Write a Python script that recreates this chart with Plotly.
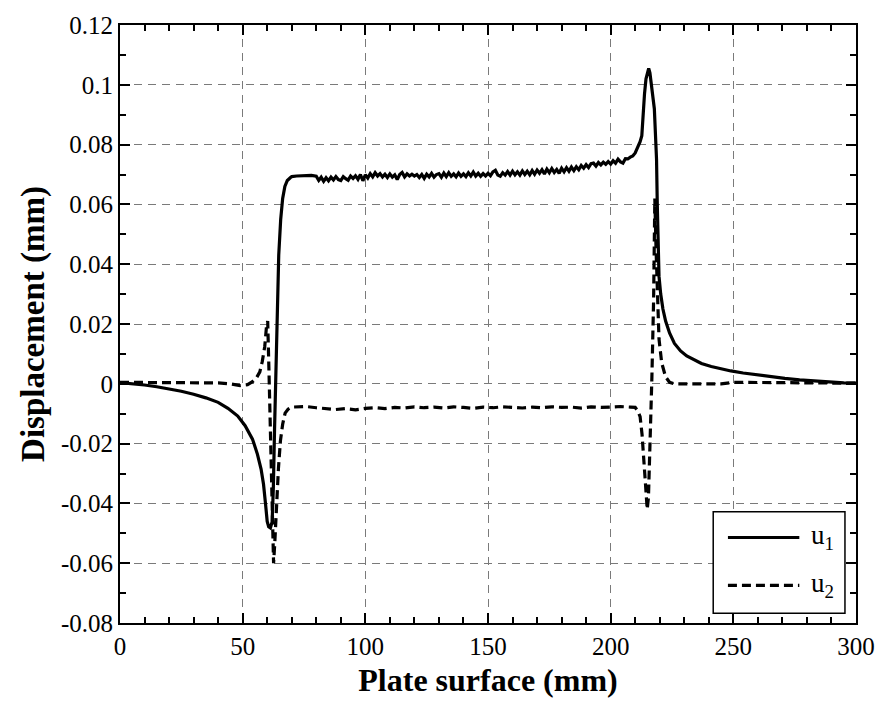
import plotly.graph_objects as go

# ---------------- data ----------------
u1_x = [0, 5, 10, 15, 20, 25, 30, 35, 40, 44, 48, 51, 54, 56, 57.5, 58.5, 59.3, 60, 60.6, 61.3,
        62, 62.5, 63, 63.5, 64, 64.7, 65.5, 66.3, 67.2, 68.2, 69.5,
        70, 72, 74, 76, 78, 80, 81, 82, 83, 84, 85, 86, 87, 88, 89, 90, 91, 92, 93, 94, 95, 96,
        97, 98, 99, 100, 101, 102, 103, 104, 105, 106, 107, 108, 109, 110, 111, 112, 113, 114,
        115, 116, 117, 118, 119, 120, 121, 122, 123, 124, 125, 126, 127, 128, 129, 130, 131, 132,
        133, 134, 135, 136, 137, 138, 139, 140, 141, 142, 143, 144, 145, 146, 147, 148, 149, 150,
        151, 152, 153, 154, 155, 156, 157, 158, 159, 160, 161, 162, 163, 164, 165, 166, 167, 168,
        169, 170, 171, 172, 173, 174, 175, 176, 177, 178, 179, 180, 181, 182, 183, 184, 185, 186,
        187, 188, 189, 190, 191, 192, 193, 194, 195, 196, 197, 198, 199, 200, 201, 202, 203, 204,
        205, 206, 207, 208, 209, 210, 211, 212, 212.7, 213.2, 213.8, 214.4, 215.0, 215.5, 216.0,
        216.6, 217.2, 217.8, 218.3, 218.7, 219.0, 219.3, 219.7, 220.4, 221.3, 222.4, 224, 226,
        228.5, 231, 234, 237, 241, 245, 249, 254, 259, 265, 271, 277, 283, 290, 295, 300]
u1_y = [0.0004, 0.0001, -0.0004, -0.0010, -0.0017, -0.0025, -0.0035, -0.0047, -0.0062, -0.0082,
        -0.0108, -0.0140, -0.0185, -0.0235, -0.0285, -0.0336, -0.0400, -0.0460, -0.0478, -0.0482,
        -0.0462, -0.0350, -0.0150, 0.0050, 0.0220, 0.0430, 0.0550, 0.0620, 0.0660, 0.0680, 0.0690,
        0.0693, 0.0695, 0.0696, 0.0697, 0.0697, 0.0694, 0.0680, 0.0691, 0.0677, 0.0689, 0.0679,
        0.0691, 0.0682, 0.0693, 0.0683, 0.0680, 0.0693, 0.0686, 0.0681, 0.0695, 0.0687, 0.0696,
        0.0684, 0.0700, 0.0679, 0.0699, 0.0688, 0.0703, 0.0692, 0.0706, 0.0695, 0.0703, 0.0692,
        0.0701, 0.0690, 0.0702, 0.0691, 0.0699, 0.0683, 0.0700, 0.0707, 0.0692, 0.0702, 0.0695,
        0.0701, 0.0695, 0.0700, 0.0690, 0.0700, 0.0687, 0.0701, 0.0692, 0.0704, 0.0691, 0.0700,
        0.0703, 0.0691, 0.0705, 0.0693, 0.0706, 0.0694, 0.0702, 0.0692, 0.0705, 0.0694, 0.0702,
        0.0693, 0.0706, 0.0695, 0.0708, 0.0695, 0.0704, 0.0694, 0.0703, 0.0695, 0.0704, 0.0696,
        0.0709, 0.0714, 0.0698, 0.0694, 0.0706, 0.0698, 0.0710, 0.0698, 0.0711, 0.0699, 0.0709,
        0.0698, 0.0712, 0.0700, 0.0711, 0.0699, 0.0713, 0.0701, 0.0715, 0.0704, 0.0716, 0.0702,
        0.0718, 0.0706, 0.0720, 0.0707, 0.0717, 0.0704, 0.0721, 0.0709, 0.0723, 0.0711, 0.0725,
        0.0713, 0.0726, 0.0716, 0.0730, 0.0721, 0.0733, 0.0723, 0.0736, 0.0738, 0.0728, 0.0740,
        0.0732, 0.0741, 0.0734, 0.0743, 0.0735, 0.0746, 0.0738, 0.0751, 0.0742, 0.0738, 0.0753,
        0.0752, 0.0758, 0.0762, 0.0772, 0.0790, 0.0810, 0.0830, 0.0900, 0.0970, 0.1020, 0.1045,
        0.1055, 0.1040, 0.0990, 0.0960, 0.0920, 0.0850, 0.0750, 0.0600, 0.0450, 0.0360, 0.0300,
        0.0250, 0.0210, 0.0170, 0.0135, 0.0110, 0.0093, 0.0079, 0.0068, 0.0058, 0.0050, 0.0043,
        0.0036, 0.0030, 0.0024, 0.0018, 0.0013, 0.0009, 0.0005, 0.0003, 0.0002]

u2_x = [0, 10, 20, 30, 40, 45, 49, 52, 54, 55.5, 57, 58, 59, 59.7, 60.2, 60.7, 61.2, 61.7, 62.2,
        62.6, 63.1, 63.8, 64.6, 65.4, 66.3, 67.3, 68.5, 70, 72, 76, 80, 84, 88, 92, 96, 100, 104,
        108, 112, 116, 120, 124, 128, 132, 136, 140, 144, 148, 152, 156, 160, 164, 168, 172, 176,
        180, 184, 188, 192, 196, 200, 204, 208, 210, 211, 212, 212.8, 213.5, 214.2, 214.9, 215.4,
        216, 216.8, 217.5, 218.0, 218.5, 219.0, 219.7, 220.8, 222.4, 224, 226, 235, 245, 250, 260,
        270, 280, 290, 300]
u2_y = [0.0005, 0.0005, 0.0005, 0.0005, 0.0003, 0.0, -0.0006, -0.0003, 0.0007, 0.0018, 0.0040,
        0.0075, 0.0125, 0.0190, 0.0210, 0.0050, -0.0150, -0.0350, -0.0520, -0.0600, -0.0530,
        -0.0400, -0.0280, -0.0190, -0.0135, -0.0098, -0.0085, -0.0078, -0.0077, -0.0076, -0.0080,
        -0.0084, -0.0086, -0.0083, -0.0087, -0.0082, -0.0080, -0.0083, -0.0079, -0.0081, -0.0077,
        -0.0080, -0.0078, -0.0081, -0.0077, -0.0079, -0.0082, -0.0078, -0.0080, -0.0077, -0.0079,
        -0.0081, -0.0078, -0.0080, -0.0077, -0.0079, -0.0078, -0.0081, -0.0077, -0.0079, -0.0078,
        -0.0076, -0.0078, -0.0079, -0.0090, -0.0110, -0.0170, -0.0260, -0.0340, -0.0420, -0.0380,
        -0.0240, 0.0020, 0.0280, 0.0620, 0.0450, 0.0280, 0.0150, 0.0070, 0.0023, 0.0005, 0.0,
        0.0, 0.0, 0.0005, 0.0004, 0.0003, 0.0003, 0.0002, 0.0002]

x_ticks = [0, 50, 100, 150, 200, 250, 300]
x_tick_labels = ["0", "50", "100", "150", "200", "250", "300"]
y_ticks = [-0.08, -0.06, -0.04, -0.02, 0, 0.02, 0.04, 0.06, 0.08, 0.1, 0.12]
y_tick_labels = ["-0.08", "-0.06", "-0.04", "-0.02", "0", "0.02", "0.04", "0.06", "0.08", "0.1", "0.12"]
series_names = ["u<sub>1</sub>", "u<sub>2</sub>"]

FONT = "Liberation Serif, Times New Roman, serif"

fig = go.Figure()
fig.add_trace(go.Scatter(x=u1_x, y=u1_y, mode="lines", name=series_names[0],
                         line=dict(color="black", width=3.2)))
fig.add_trace(go.Scatter(x=u2_x, y=u2_y, mode="lines", name=series_names[1],
                         line=dict(color="black", width=3.2, dash="9px,5px")))

axis_common = dict(
    showline=True, linecolor="black", linewidth=2, mirror="ticks",
    ticks="inside", ticklen=10, tickwidth=1.5, tickcolor="black",
    showgrid=True, gridcolor="#7a7a7a", gridwidth=1.2, griddash="8px,6px",
    zeroline=False,
    tickfont=dict(family=FONT, size=25, color="black"),
)

fig.update_xaxes(
    range=[0, 300], tickmode="array", tickvals=x_ticks, ticktext=x_tick_labels,
    minor=dict(dtick=10, tick0=0, ticks="inside", ticklen=6, tickcolor="black", showgrid=False),
    title=dict(text="Plate surface (mm)", standoff=10,
               font=dict(family=FONT, size=32, color="black", weight="bold")),
    **axis_common)
fig.update_yaxes(
    range=[-0.08, 0.12], tickmode="array", tickvals=y_ticks, ticktext=y_tick_labels,
    minor=dict(dtick=0.01, tick0=0, ticks="inside", ticklen=6, tickcolor="black", showgrid=False),
    title=dict(text="Displacement (mm)", standoff=6,
               font=dict(family=FONT, size=33, color="black", weight="bold")),
    **axis_common)

# legend box drawn in paper coordinates (long line samples as in the reference)
fig.add_shape(type="rect", xref="paper", yref="paper", x0=0.806, x1=0.985, y0=0.0164, y1=0.186,
              line=dict(color="black", width=1.5), fillcolor="white", layer="above")
legend_rows = [(0.143, dict(color="black", width=3.2)),
               (0.063, dict(color="black", width=3.2, dash="9px,5px"))]
for (yy, ln), name in zip(legend_rows, series_names):
    fig.add_shape(type="line", xref="paper", yref="paper", x0=0.826, x1=0.923, y0=yy, y1=yy,
                  line=ln, layer="above")
    fig.add_annotation(xref="paper", yref="paper", x=0.936, y=yy, text=name, showarrow=False,
                       xanchor="left", yanchor="middle",
                       font=dict(family=FONT, size=27, color="black"))

fig.update_layout(
    width=887, height=704,
    margin=dict(l=120, r=25, t=16, b=80),
    paper_bgcolor="white", plot_bgcolor="white",
    showlegend=False,
    font=dict(family=FONT, color="black"),
)

fig.write_html("out.html")
